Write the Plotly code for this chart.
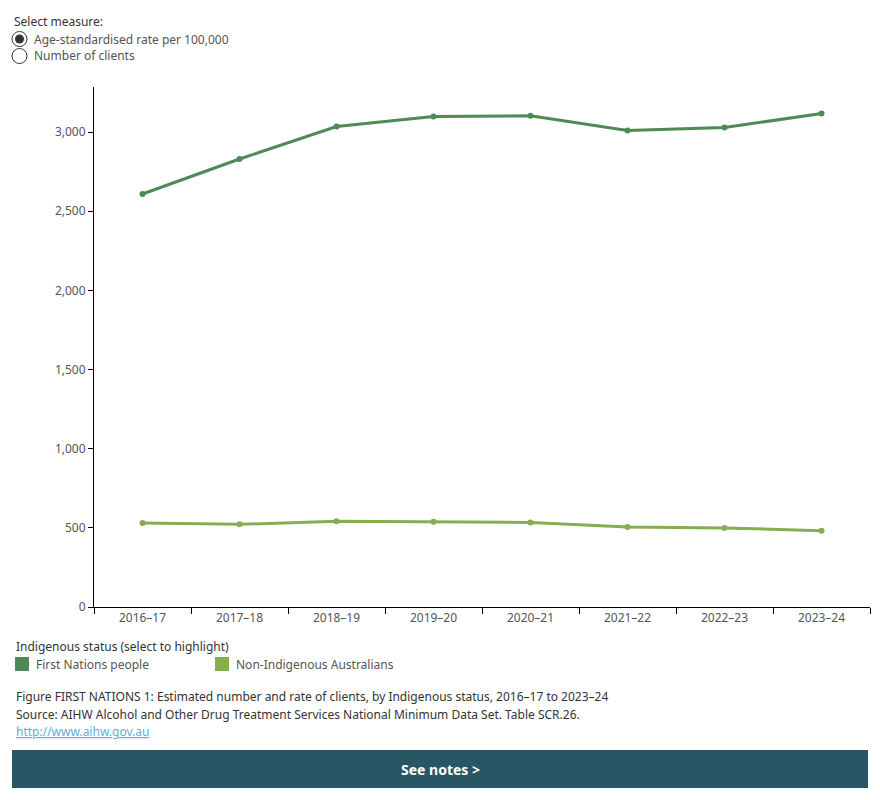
import plotly.graph_objects as go

years = ["2016–17", "2017–18", "2018–19", "2019–20", "2020–21", "2021–22", "2022–23", "2023–24"]
first_nations = [2609, 2830, 3035, 3098, 3103, 3010, 3029, 3117]
non_indigenous = [530, 522, 541, 539, 534, 505, 499, 482]
series_names = ["First Nations people", "Non-Indigenous Australians"]
colors = ["#4E8A55", "#85AD52"]
y_ticks = [0, 500, 1000, 1500, 2000, 2500, 3000]

W, H = 880, 800
L, R, T, B = 94, 870, 87, 607
FONT = "Noto Sans"


def px(x):
    return (x - L) / (R - L)


def py(y):
    return (B - y) / (B - T)


fig = go.Figure()
for vals, name, col in zip([first_nations, non_indigenous], series_names, colors):
    fig.add_trace(go.Scatter(
        x=years, y=vals, name=name, mode="lines+markers",
        line=dict(color=col, width=3), marker=dict(color=col, size=6),
        showlegend=False,
    ))

fig.update_layout(
    width=W, height=H,
    margin=dict(l=L, r=W - R, t=T, b=H - B),
    paper_bgcolor="white", plot_bgcolor="white",
    font=dict(family=FONT, size=12, color="#555555"),
    xaxis=dict(
        type="category", range=[-0.5, 7.5], showgrid=False, zeroline=False,
        showline=True, linecolor="#000000", linewidth=1,
        ticks="outside", tickson="boundaries", ticklen=6, tickcolor="#000000",
        tickfont=dict(size=12, color="#555555"),
    ),
    yaxis=dict(
        range=[0, 3285], showgrid=False, zeroline=False,
        showline=True, linecolor="#000000", linewidth=1,
        ticks="outside", ticklen=5, tickcolor="#000000",
        tickvals=y_ticks, ticktext=[f"{v:,}" for v in y_ticks],
        tickfont=dict(size=12, color="#555555"),
    ),
)

shapes = []
annotations = []


def text(x, y, s, size=12, color="#333333", xanchor="left", **kw):
    annotations.append(dict(
        x=px(x), y=py(y), xref="paper", yref="paper", text=s, showarrow=False,
        xanchor=xanchor, yanchor="middle", font=dict(family=FONT, size=size, color=color), **kw))


# radio selector
text(12, 21, "Select measure:", 12, "#333333")
for cy, filled in [(39, True), (56, False)]:
    shapes.append(dict(type="circle", xref="paper", yref="paper",
                       x0=px(12), x1=px(27), y0=py(cy + 7.5), y1=py(cy - 7.5),
                       line=dict(color="#333333", width=1), fillcolor="white"))
    if filled:
        shapes.append(dict(type="circle", xref="paper", yref="paper",
                           x0=px(15), x1=px(24), y0=py(cy + 4.5), y1=py(cy - 4.5),
                           line=dict(color="#333333", width=0), fillcolor="#333333"))
text(32, 39, "Age-standardised rate per 100,000", 12, "#555555")
text(32, 56, "Number of clients", 12, "#555555")

# legend
text(14, 646, "Indigenous status (select to highlight)", 12, "#333333")
for (x0, tx), name, col in zip([(15, 34), (215, 234)], series_names, colors):
    shapes.append(dict(type="rect", xref="paper", yref="paper",
                       x0=px(x0), x1=px(x0 + 14), y0=py(671), y1=py(657),
                       line=dict(width=0), fillcolor=col))
    text(tx, 664, name, 12, "#555555")

# caption
text(14, 696, "Figure FIRST NATIONS 1: Estimated number and rate of clients, by Indigenous status, 2016–17 to 2023–24", 12, "#333333")
text(14, 714, "Source: AIHW Alcohol and Other Drug Treatment Services National Minimum Data Set. Table SCR.26.", 12, "#333333")
text(14, 731, "<u>http://www.aihw.gov.au</u>", 12, "#5BB0D6")

# button
shapes.append(dict(type="rect", xref="paper", yref="paper",
                   x0=px(12), x1=px(868), y0=py(788), y1=py(750),
                   line=dict(width=0), fillcolor="#285664"))
annotations.append(dict(x=px(440), y=py(769), xref="paper", yref="paper",
                        text="<b>See notes &gt;</b>", showarrow=False,
                        xanchor="center", yanchor="middle",
                        font=dict(family=FONT, size=14, color="white")))

fig.update_layout(shapes=shapes, annotations=annotations)
fig.write_html("out.html")
